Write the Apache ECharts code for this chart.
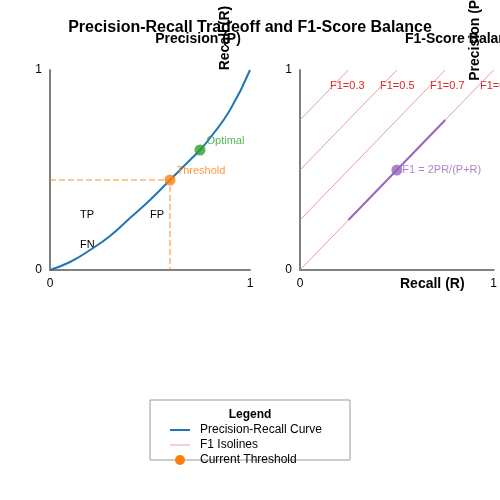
<!DOCTYPE html><html><head><meta charset="utf-8"><script src="https://cdn.jsdelivr.net/npm/echarts@6/dist/echarts.min.js"></script></head><body style="margin:0"><div id="c" style="width:500px;height:500px"></div><script>
var recall=[0,0.1,0.2,0.3,0.4,0.5,0.6,0.7,0.75,0.8,0.9,1];
var precision=[0,0.04,0.1,0.17,0.26,0.35,0.45,0.55,0.6,0.66,0.8,1];
var threshold=[0.6,0.45];
var optimal=[0.75,0.6];
var isoOffsets=[0.75,0.5,0.25,0];
var isoLabels=['F1=0.3','F1=0.5','F1=0.7','F1=0.9'];
var f1Segment=[[0.25,0.25],[0.75,0.75]];
var f1Point=[0.5,0.5];
var F='Liberation Sans, Arial, sans-serif';
function ax(gi){return {gridIndex:gi,type:'value',min:0,max:1,interval:1,axisLine:{lineStyle:{color:'#808080',width:2}},axisTick:{show:false},splitLine:{show:false},axisLabel:{color:'#000',fontSize:12,fontFamily:F}};}
var series=[];
series.push({type:'line',xAxisIndex:0,yAxisIndex:0,smooth:true,symbol:'none',lineStyle:{color:'#1f77b4',width:2},data:recall.map(function(r,i){return [r,precision[i]];}),z:3});
series.push({type:'line',xAxisIndex:0,yAxisIndex:0,symbol:'none',lineStyle:{color:'#ff7f0e',type:'dashed',width:1.5,opacity:0.6},data:[[0,threshold[1]],threshold,[threshold[0],0]]});
series.push({type:'scatter',xAxisIndex:0,yAxisIndex:0,symbolSize:11,itemStyle:{color:'#ff7f0e'},data:[threshold],label:{show:true,formatter:'Threshold',position:'right',offset:[-4,-9],color:'#ff7f0e',fontSize:11,fontFamily:F},z:5});
series.push({type:'scatter',xAxisIndex:0,yAxisIndex:0,symbolSize:11,itemStyle:{color:'#2ca02c'},data:[optimal],label:{show:true,formatter:'Optimal',position:'right',offset:[-4,-9],color:'#2ca02c',fontSize:11,fontFamily:F},z:5});
isoOffsets.forEach(function(o,i){
 series.push({type:'line',xAxisIndex:1,yAxisIndex:1,symbol:'none',lineStyle:{color:'#e88080',width:0.8},data:[[0,o],[1-o,1]]});
});
series.push({type:'line',xAxisIndex:1,yAxisIndex:1,symbol:'none',lineStyle:{color:'#9467bd',width:2},data:f1Segment});
series.push({type:'scatter',xAxisIndex:1,yAxisIndex:1,symbolSize:11,itemStyle:{color:'#9467bd'},data:[f1Point],label:{show:true,formatter:'F1 = 2PR/(P+R)',position:'right',offset:[-5,0],color:'#9467bd',fontSize:11,fontFamily:F},z:5});
var gfx=[];
isoLabels.forEach(function(t,i){gfx.push({type:'text',left:330+i*50,top:80,style:{text:t,fill:'#d62728',font:'11px '+F}});});
gfx.push({type:'text',left:80,top:209,style:{text:'TP',fill:'#000',font:'11px '+F}});
gfx.push({type:'text',left:150,top:209,style:{text:'FP',fill:'#000',font:'11px '+F}});
gfx.push({type:'text',left:80,top:239,style:{text:'FN',fill:'#000',font:'11px '+F}});
gfx.push({type:'text',x:225,y:38,rotation:Math.PI/2,style:{text:'Recall (R)',fill:'#000',font:'bold 14px '+F,align:'center',verticalAlign:'middle'}});
gfx.push({type:'text',x:475,y:38,rotation:Math.PI/2,style:{text:'Precision (P)',fill:'#000',font:'bold 14px '+F,align:'center',verticalAlign:'middle'}});
gfx.push({type:'text',left:400,top:277,style:{text:'Recall (R)',fill:'#000',font:'bold 14px '+F}});
gfx.push({type:'rect',shape:{x:150,y:400,width:200,height:60},style:{fill:'#fff',stroke:'#999',lineWidth:1}});
gfx.push({type:'text',x:250,y:415,style:{text:'Legend',fill:'#000',font:'bold 12px '+F,align:'center',verticalAlign:'middle'}});
gfx.push({type:'line',shape:{x1:170,y1:430,x2:190,y2:430},style:{stroke:'#1f77b4',lineWidth:2}});
gfx.push({type:'line',shape:{x1:170,y1:445,x2:190,y2:445},style:{stroke:'#f4a0a0',lineWidth:1}});
gfx.push({type:'circle',shape:{cx:180,cy:460,r:5},style:{fill:'#ff7f0e'}});
[['Precision-Recall Curve',430],['F1 Isolines',445],['Current Threshold',460]].forEach(function(a){gfx.push({type:'text',x:200,y:a[1],style:{text:a[0],fill:'#000',font:'12px '+F,verticalAlign:'middle'}});});
var chart=echarts.init(document.getElementById('c'));
chart.setOption({animation:false,backgroundColor:'#fff',
title:[{text:'Precision-Recall Tradeoff and F1-Score Balance',left:'center',top:15,textStyle:{fontSize:16,fontWeight:'bold',fontFamily:F,color:'#000'}},
{text:'Precision (P)',left:193,top:27,textAlign:'center',textStyle:{fontSize:14,fontWeight:'bold',fontFamily:F,color:'#000'}},
{text:'F1-Score Balance',left:400,top:27,textStyle:{fontSize:14,fontWeight:'bold',fontFamily:F,color:'#000'}}],
grid:[{left:50,top:70,width:200,height:200},{left:300,top:70,width:200,height:200}],
xAxis:[ax(0),ax(1)],yAxis:[ax(0),ax(1)],series:series,graphic:gfx});
</script></body></html>
